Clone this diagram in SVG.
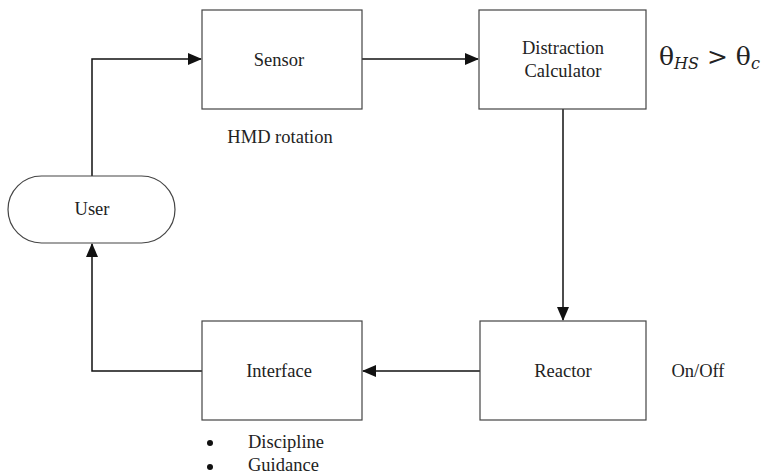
<svg xmlns="http://www.w3.org/2000/svg" width="767" height="476" viewBox="0 0 767 476">
<style>
.box{fill:#fff;stroke:#444;stroke-width:1.2}
.t{font-size:18.5px;fill:#222;text-anchor:middle}
.tl{font-size:18.5px;fill:#222}
.c{fill:none;stroke:#111;stroke-width:1.5}
</style>
<defs>
<marker id="ah" markerWidth="14" markerHeight="12" refX="13" refY="6" orient="auto" markerUnits="userSpaceOnUse">
<path d="M0,0 L14,6 L0,12 Z" fill="#111"/>
</marker>
</defs>
<g id="connectors">
<path class="c" d="M92,176 V59 H201" marker-end="url(#ah)"/>
<path class="c" d="M362,59 H478" marker-end="url(#ah)"/>
<path class="c" d="M563,109 V320" marker-end="url(#ah)"/>
<path class="c" d="M480,371 H363" marker-end="url(#ah)"/>
<path class="c" d="M202,371 H92 V244" marker-end="url(#ah)"/>
</g>
<g font-family="'Liberation Serif', 'Times New Roman', serif">
<g id="sensor">
<rect class="box" x="202" y="10" width="160" height="99"/>
<text class="t" x="279" y="66">Sensor</text>
<text class="t" x="280" y="143">HMD rotation</text>
</g>
<g id="distraction">
<rect class="box" x="479" y="10" width="167" height="99"/>
<text class="t" x="563" y="54">Distraction</text>
<text class="t" x="563" y="77">Calculator</text>
<text x="659" y="65" font-family="'DejaVu Serif', 'Liberation Serif', serif" font-size="25" fill="#222">θ<tspan font-style="italic" font-size="16" dy="4">HS</tspan><tspan dy="-4"> &gt; θ</tspan><tspan font-style="italic" font-size="16" dy="4">c</tspan></text>
</g>
<g id="user">
<rect class="box" x="8" y="176" width="167" height="67" rx="33.5" ry="33.5"/>
<text class="t" x="92" y="215">User</text>
</g>
<g id="reactor">
<rect class="box" x="480" y="321" width="166" height="99"/>
<text class="t" x="563" y="377">Reactor</text>
<text class="t" x="698" y="377">On/Off</text>
</g>
<g id="interface">
<rect class="box" x="202" y="321" width="160" height="99"/>
<text class="t" x="279" y="377">Interface</text>
<circle cx="210" cy="443" r="3" fill="#111"/>
<circle cx="210" cy="467" r="3" fill="#111"/>
<text class="tl" x="248" y="448">Discipline</text>
<text class="tl" x="248" y="471">Guidance</text>
</g>
</g>
</svg>
